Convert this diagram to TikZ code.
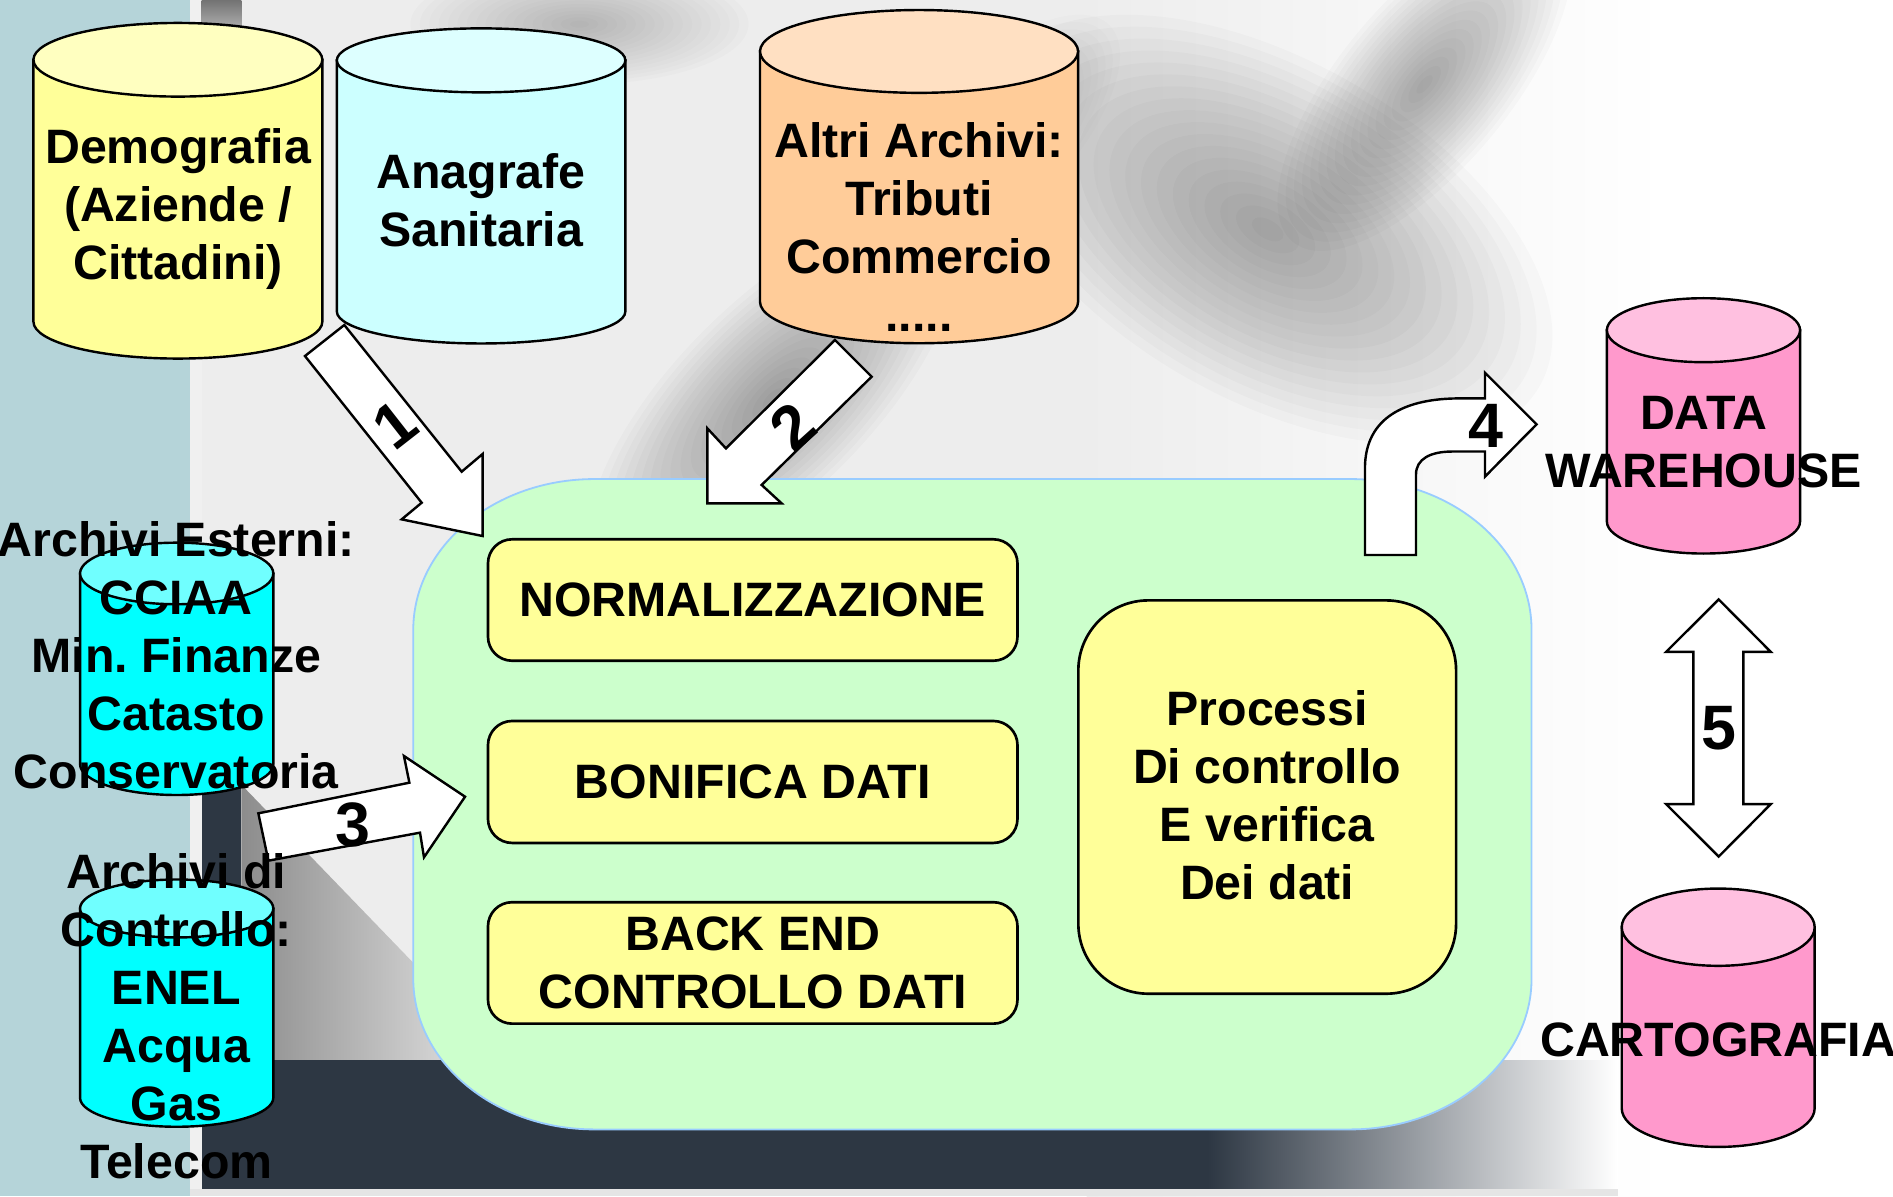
\documentclass[tikz,border=0pt]{standalone}
\usepackage{fontspec}
\setmainfont{Liberation Sans}
\definecolor{leftbg}{HTML}{B5D4D9}
\definecolor{darkband}{HTML}{2D3743}
\definecolor{cylyel}{HTML}{FFFF99}
\definecolor{cylyeltop}{HTML}{FFFFC0}
\definecolor{cylaq}{HTML}{CCFFFF}
\definecolor{cylaqtop}{HTML}{DDFFFF}
\definecolor{cylor}{HTML}{FFCC99}
\definecolor{cylortop}{HTML}{FFE0C2}
\definecolor{cylpk}{HTML}{FF99CC}
\definecolor{cylpktop}{HTML}{FFC0E0}
\definecolor{cylcy}{HTML}{00FFFF}
\definecolor{cylcytop}{HTML}{70FFFF}
\definecolor{procgreen}{HTML}{CCFFCC}
\definecolor{procedge}{HTML}{99CCFF}
\definecolor{boxyel}{HTML}{FFFF99}
\newcommand{\dbcyl}[8]{%
  \pgfmathsetmacro{\cylrx}{(#3-#2)/2}%
  \pgfmathsetmacro{\cylcx}{(#3+#2)/2}%
  \pgfmathsetmacro{\cylcy}{(#4+#5)/2}%
  \filldraw[cylline, fill=#7] (#2,#4) -- (#2,#5) arc[start angle=180, end angle=360, x radius=\cylrx pt, y radius=#6pt] -- (#3,#4) -- cycle;
  \filldraw[cylline, fill=#8] (\cylcx,#4) ellipse[x radius=\cylrx pt, y radius=#6pt];
  \coordinate (#1) at (\cylcx,\cylcy);
}
% soft blurred blob: x, y, rx, ry, angle, colour
\newcommand{\softblob}[6]{%
  \foreach \blk in {1,...,18}{%
    \pgfmathsetmacro{\blrx}{#3*\blk/18}%
    \pgfmathsetmacro{\blry}{#4*\blk/18}%
    \fill[#6, opacity=0.018, rotate around={#5:(#1,#2)}] (#1,#2) ellipse[x radius=\blrx pt, y radius=\blry pt];
  }%
}
\begin{document}
\frenchspacing
\begin{tikzpicture}[x=1pt,y=-1pt,
  cylline/.style={draw=black, line width=2pt},
  lbl/.style={font=\fontsize{40}{48}\selectfont\bfseries, align=center, inner sep=0pt, text=black},
  num/.style={font=\fontsize{52}{52}\selectfont\bfseries, inner sep=0pt, text=black},
  stepbox/.style={draw=black, line width=2.2pt, fill=boxyel, rounded corners=20pt, inner sep=0pt},
  blockarrow/.style={draw=black, line width=2pt, fill=white, line join=miter},
]
\useasboundingbox (0,0) rectangle (1568,991);
\begin{scope}
\clip (0,0) rectangle (1568,991);
% ---------- background ----------
\fill[white] (0,0) rectangle (1568,991);
\fill[black!7] (160,0) rectangle (900,991);
\shade[left color=black!7, right color=white] (900,0) rectangle (1380,991);
\softblob{1050}{190}{260}{140}{-30}{black}
\softblob{640}{330}{200}{80}{45}{black}
\softblob{1180}{70}{170}{70}{50}{black}
\softblob{480}{20}{140}{50}{0}{black!70}
\softblob{820}{120}{140}{60}{45}{black!60}
\fill[leftbg] (0,0) rectangle (157,991);
\fill[black!6] (157,0) rectangle (167,991);
\shade[top color=black!55, bottom color=black!10] (167,0) rectangle (200,45);
\fill[darkband] (167,650) rectangle (200,985);
\shade[left color=black!45, right color=black!8] (200,650) -- (200,878) -- (420,878) -- cycle;
\fill[darkband] (167,878) rectangle (1000,985);
\shade[left color=darkband, right color=white] (1000,878) rectangle (1340,985);
\fill[black!10] (157,985) rectangle (1340,991);
\end{scope}
% ---------- process area ----------
\path[draw=procedge, line width=1.5pt, fill=procgreen]
  (492.3,396.8) -- (1118.6,396.8)
  arc[start angle=90, end angle=0, x radius=150pt, y radius=125pt] -- (1268.6,810.5)
  arc[start angle=0, end angle=-90, x radius=150pt, y radius=125pt] -- (492.3,935.5)
  arc[start angle=270, end angle=180, x radius=150pt, y radius=125pt] -- (342.3,521.8)
  arc[start angle=180, end angle=90, x radius=150pt, y radius=125pt] -- cycle;
\coordinate (proc) at (805.5,666);
\node[stepbox, lbl, minimum width=438.6pt, minimum height=100.6pt] (norm) at (623.5,497) {NORMALIZZAZIONE};
\node[stepbox, lbl, minimum width=438.6pt, minimum height=101pt] (bonif) at (623.5,647.7) {BONIFICA DATI};
\node[stepbox, lbl, minimum width=438.6pt, minimum height=100.6pt] (backend) at (623.5,797.6) {BACK END\\CONTROLLO DATI};
\node[stepbox, lbl, rounded corners=58pt, minimum width=312.9pt, minimum height=325.8pt] (procbox) at (1049.65,660.2) {};
\node[lbl] (proctxt) at (1049.65,659) {Processi\\Di controllo\\E verifica\\Dei dati};
% ---------- cylinders ----------
\dbcyl{demo}{27.7}{267}{49.5}{266.5}{30.5}{cylyel}{cylyeltop}
\dbcyl{anag}{279}{518}{50}{258}{26.5}{cylaq}{cylaqtop}
\dbcyl{altri}{629.5}{893}{42.6}{250}{34.3}{cylor}{cylortop}
\dbcyl{dw}{1331}{1491}{273.5}{432}{26.5}{cylpk}{cylpktop}
\dbcyl{carto}{1343.3}{1503.1}{768}{918}{32}{cylpk}{cylpktop}
\dbcyl{esterni}{66.3}{226.4}{475}{633}{25.5}{cylcy}{cylcytop}
\dbcyl{controllo}{66.3}{226.4}{752.5}{909.3}{24}{cylcy}{cylcytop}
% ---------- block arrows ----------
\draw[blockarrow] (252.6,294.9) -- (349.3,416.4) -- (332.7,430.2) -- (399.8,444.0) -- (399.8,376.0) -- (382.4,390.7) -- (285.2,269.2) -- cycle;
\draw[blockarrow] (691.6,281.6) -- (722.0,312.0) -- (630.9,401.7) -- (647.4,416.9) -- (585.9,416.9) -- (585.9,354.8) -- (601.3,371.4) -- cycle;
\draw[blockarrow] (214.0,673.7) -- (339.1,648.3) -- (334.6,626.2) -- (385.2,659.9) -- (351.2,710.1) -- (347.9,689.7) -- (222.3,712.9) -- cycle;
\draw[blockarrow] (1130.6,459.7) -- (1130.6,388) .. controls (1130.6,345) and (1165,330) .. (1209,330) -- (1230,330) -- (1230,308.7) -- (1272.8,351.5) -- (1230,394.8) -- (1230,374) -- (1203,374) .. controls (1185,374) and (1172.9,380) .. (1172.9,393) -- (1172.9,459.7) -- cycle;
\draw[blockarrow] (1423.6,496.5) -- (1466.8,540) -- (1444,540) -- (1444,666) -- (1466.8,666) -- (1423.6,709.5) -- (1380,666) -- (1402.6,666) -- (1402.6,540) -- (1380,540) -- cycle;
\node[num, rotate=38] (n1) at (327,352) {1};
\node[num, rotate=42] (n2) at (657,353) {2};
\node[num] (n3) at (292.7,683) {3};
\node[num] (n4) at (1231,353) {4};
\node[num] (n5) at (1423.6,603.5) {5};
% ---------- labels ----------
\node[lbl] (demotxt) at (147.5,173) {Demografia\\(Aziende /\\Cittadini)};
\node[lbl] (anagtxt) at (398.5,166) {Anagrafe\\Sanitaria};
\node[lbl] (altritxt) at (761.3,188) {Altri Archivi:\\Tributi\\Commercio\\.....};
\node[lbl] (dwtxt) at (1411,366) {DATA\\WAREHOUSE};
\node[lbl, anchor=base] (cartotxt) at (1423.2,875) {CARTOGRAFIA};
\node[lbl] (esternitxt) at (146,543) {Archivi Esterni:\\CCIAA\\Min. Finanze\\Catasto\\Conservatoria};
\node[lbl] (controllotxt) at (146,842) {Archivi di\\Controllo:\\ENEL\\Acqua\\Gas\\Telecom};
\end{tikzpicture}
\end{document}
